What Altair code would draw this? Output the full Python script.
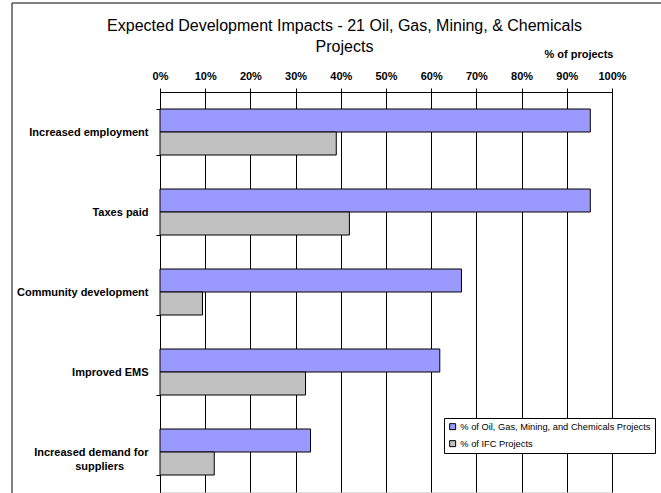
import altair as alt
import pandas as pd

FONT = "Liberation Sans"

# Chart data
categories = [
    "Increased employment",
    "Taxes paid",
    "Community development",
    "Improved EMS",
    "Increased demand for suppliers",
]
series = ["% of Oil, Gas, Mining, and Chemicals Projects", "% of IFC Projects"]
sector_share = [0.952, 0.952, 0.667, 0.619, 0.333]
ifc_share = [0.390, 0.419, 0.094, 0.322, 0.120]
series_colors = ["#9999FF", "#C0C0C0"]
x_ticks = [0.0, 0.1, 0.2, 0.3, 0.4, 0.5, 0.6, 0.7, 0.8, 0.9, 1.0]
title_lines = ["Expected Development Impacts - 21 Oil, Gas, Mining, & Chemicals", "Projects"]

rows = []
for cat, a, b in zip(categories, sector_share, ifc_share):
    rows.append({"impact": cat, "group": series[0], "share": a})
    rows.append({"impact": cat, "group": series[1], "share": b})
df = pd.DataFrame(rows)

W, H = 452, 400

# second line of the wrapped label is padded (nbsp + zero-width stop) so it
# sits centred under the first line
pad = "\u00a0" * 8 + "\u200b"
label_expr = (
    "datum.value == 'Increased demand for suppliers' ? "
    f"['Increased demand for', 'suppliers{pad}'] : datum.label"
)

bars = alt.Chart(df).mark_bar(stroke="black", strokeWidth=1).encode(
    x=alt.X(
        "share:Q",
        scale=alt.Scale(domain=[0, 1], nice=False, zero=True),
        axis=alt.Axis(
            orient="top",
            values=x_ticks,
            format=".0%",
            title="% of projects",
            titleX=W + 1,
            titleY=-38,
            titleAlign="right",
            titleBaseline="middle",
            titleFont=FONT,
            titleFontSize=11,
            titleFontWeight="bold",
            titleColor="black",
            labelFont=FONT,
            labelFontSize=11,
            labelFontWeight="bold",
            labelColor="black",
            labelPadding=7,
            labelFlush=False,
            tickSize=4,
            tickColor="black",
            domainColor="black",
            grid=True,
            gridColor="black",
            gridOpacity=1,
            gridWidth=1,
        ),
    ),
    y=alt.Y(
        "impact:N",
        sort=categories,
        scale=alt.Scale(paddingInner=0.425, paddingOuter=0.2125),
        axis=alt.Axis(
            title=None,
            tickBand="extent",
            tickSize=4,
            tickColor="black",
            domainColor="black",
            labelPadding=8,
            labelFont=FONT,
            labelFontSize=11,
            labelFontWeight="bold",
            labelColor="black",
            labelLimit=220,
            labelLineHeight=14,
            labelExpr=label_expr,
        ),
    ),
    yOffset=alt.YOffset("group:N", sort=series),
    color=alt.Color(
        "group:N",
        sort=series,
        scale=alt.Scale(domain=series, range=series_colors),
        legend=alt.Legend(
            title=None,
            orient="none",
            legendX=284,
            legendY=326,
            padding=4,
            strokeColor="black",
            fillColor="white",
            cornerRadius=0,
            symbolType="square",
            symbolSize=36,
            symbolStrokeColor="black",
            symbolStrokeWidth=1,
            symbolOpacity=1,
            labelFont=FONT,
            labelFontSize=9.3,
            labelColor="black",
            labelOffset=3,
            labelLimit=300,
            rowPadding=6,
        ),
    ),
)

one_row = pd.DataFrame({"k": [0]})

# two-line chart title
title_text = alt.Chart(one_row).mark_text(
    font=FONT, fontSize=16, color="black", align="center",
    baseline="alphabetic", lineHeight=21,
).encode(x=alt.value(184.5), y=alt.value(-61), text=alt.value(title_lines))

# outer chart frame (top and left edges)
frame_top = alt.Chart(one_row).mark_rule(color="black", strokeWidth=1).encode(
    x=alt.value(-148), x2=alt.value(W + 60), y=alt.value(-89)
)
frame_left = alt.Chart(one_row).mark_rule(color="black", strokeWidth=1).encode(
    x=alt.value(-148), y=alt.value(-89), y2=alt.value(H + 20)
)

chart = (
    alt.layer(bars, title_text, frame_top, frame_left)
    .properties(
        width=W,
        height=H,
        autosize="none",
        padding={"left": 160, "top": 92, "right": 49, "bottom": 1},
    )
    .configure_view(stroke="black", strokeWidth=1)
    .configure(background="white")
)

chart.save("out.html", embed_options={"renderer": "svg", "actions": False})
